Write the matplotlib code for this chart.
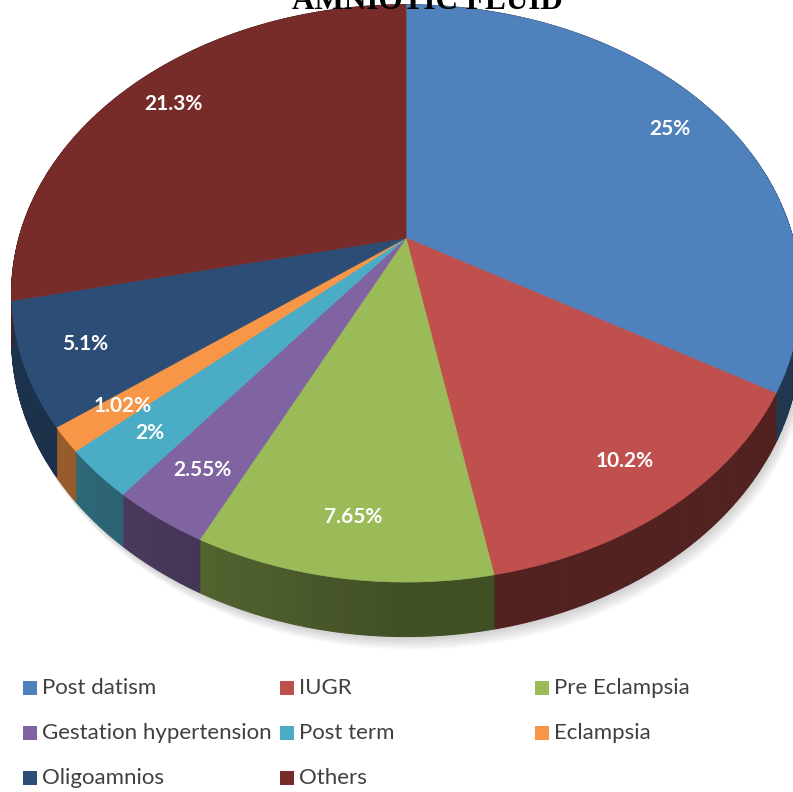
import matplotlib.pyplot as plt
import matplotlib.colors as mcolors
from matplotlib.patches import Polygon, Rectangle
import numpy as np

labels = ['Post datism', 'IUGR', 'Pre Eclampsia', 'Gestation hypertension',
          'Post term', 'Eclampsia', 'Oligoamnios', 'Others']
values = [25, 10.2, 7.65, 2.55, 2, 1.02, 5.1, 21.3]
value_text = ['25%', '10.2%', '7.65%', '2.55%', '2%', '1.02%', '5.1%', '21.3%']
colors = ['#4F81BD', '#C0504D', '#9BBB59', '#8064A2',
          '#4BACC6', '#F79646', '#2C4D75', '#772C2A']

# perspective pie geometry (pixel space, y down)
CX, CY = 406, 238
A, B, P = 387, 278, 0.192
DEPTH = 44


def project(phi_deg, r=1.0, drop=0.0):
    t = np.radians(phi_deg)
    u = r * np.cos(t)
    v = -r * np.sin(t)
    w = 1 - P * v
    return CX + A * u / w, CY + (B * v + drop) / w


def shade(c, f):
    rgb = np.array(mcolors.to_rgb(c))
    return tuple(np.clip(rgb * f, 0, 1))


fig = plt.figure(figsize=(7.93, 7.92), dpi=100)
ax = fig.add_axes([0, 0, 1, 1])
ax.set_xlim(0, 793)
ax.set_ylim(792, 0)
ax.axis('off')

# let matplotlib work out the slice angles
helper = fig.add_axes([0, 0, 0.01, 0.01])
wedges, _ = helper.pie(values, startangle=90, counterclock=False)
spans = [(w.theta1, w.theta2) for w in wedges]
helper.remove()

# soft shadow under the disc
ring = np.linspace(0, 360, 361)
bx, by = project(ring, 1.0, DEPTH)
for k in range(1, 12):
    ax.add_patch(Polygon(np.column_stack([bx + k * 0.6, by + k * 1.2]), closed=True,
                         facecolor='#808080', edgecolor='none', alpha=0.035, zorder=1))

# outer walls, lighter towards the left
for (t1, t2), c in zip(spans, colors):
    th = np.linspace(t1, t2, max(int(t2 - t1) * 3, 4))
    for a0, a1 in zip(th[:-1], th[1:]):
        x0, y0 = project(a0)
        x1, y1 = project(a1)
        x2, y2 = project(a1, 1.0, DEPTH)
        x3, y3 = project(a0, 1.0, DEPTH)
        mid = np.radians((a0 + a1) / 2)
        f = 0.42 + 0.25 * max(0.0, -np.cos(mid))
        col = shade(c, f)
        ax.add_patch(Polygon([(x0, y0), (x1, y1), (x2, y2), (x3, y3)], closed=True,
                             facecolor=col, edgecolor=col, lw=0.8, zorder=2))

# top faces
for (t1, t2), c in zip(spans, colors):
    th = np.linspace(t1, t2, max(int(t2 - t1) * 2, 4))
    rx, ry = project(th)
    pts = np.vstack([[CX, CY], np.column_stack([rx, ry])])
    ax.add_patch(Polygon(pts, closed=True, facecolor=c, edgecolor=c, lw=0.5, zorder=3))

# value labels
for (t1, t2), txt in zip(spans, value_text):
    lx, ly = project((t1 + t2) / 2, 0.85)
    ax.text(lx, ly, txt, color='white', fontsize=15, fontweight='bold',
            family='Lato', ha='center', va='center', zorder=5)

ax.text(427, 9, 'AMNIOTIC FLUID', family='Liberation Serif', fontweight='bold',
        fontsize=22.5, ha='center', va='baseline', color='black', zorder=6)

# legend, three equal columns
col_x = [23, 280, 535]
row_y = [688, 733, 778]
for i, (name, c) in enumerate(zip(labels, colors)):
    x = col_x[i % 3]
    y = row_y[i // 3]
    ax.add_patch(Rectangle((x, y - 7), 14, 14, facecolor=c, edgecolor='none', zorder=4))
    ax.text(x + 19, y, name, family='Lato', fontsize=16, color='#404040',
            ha='left', va='center', zorder=4)

fig.savefig('out.png', dpi=100, facecolor='white')
